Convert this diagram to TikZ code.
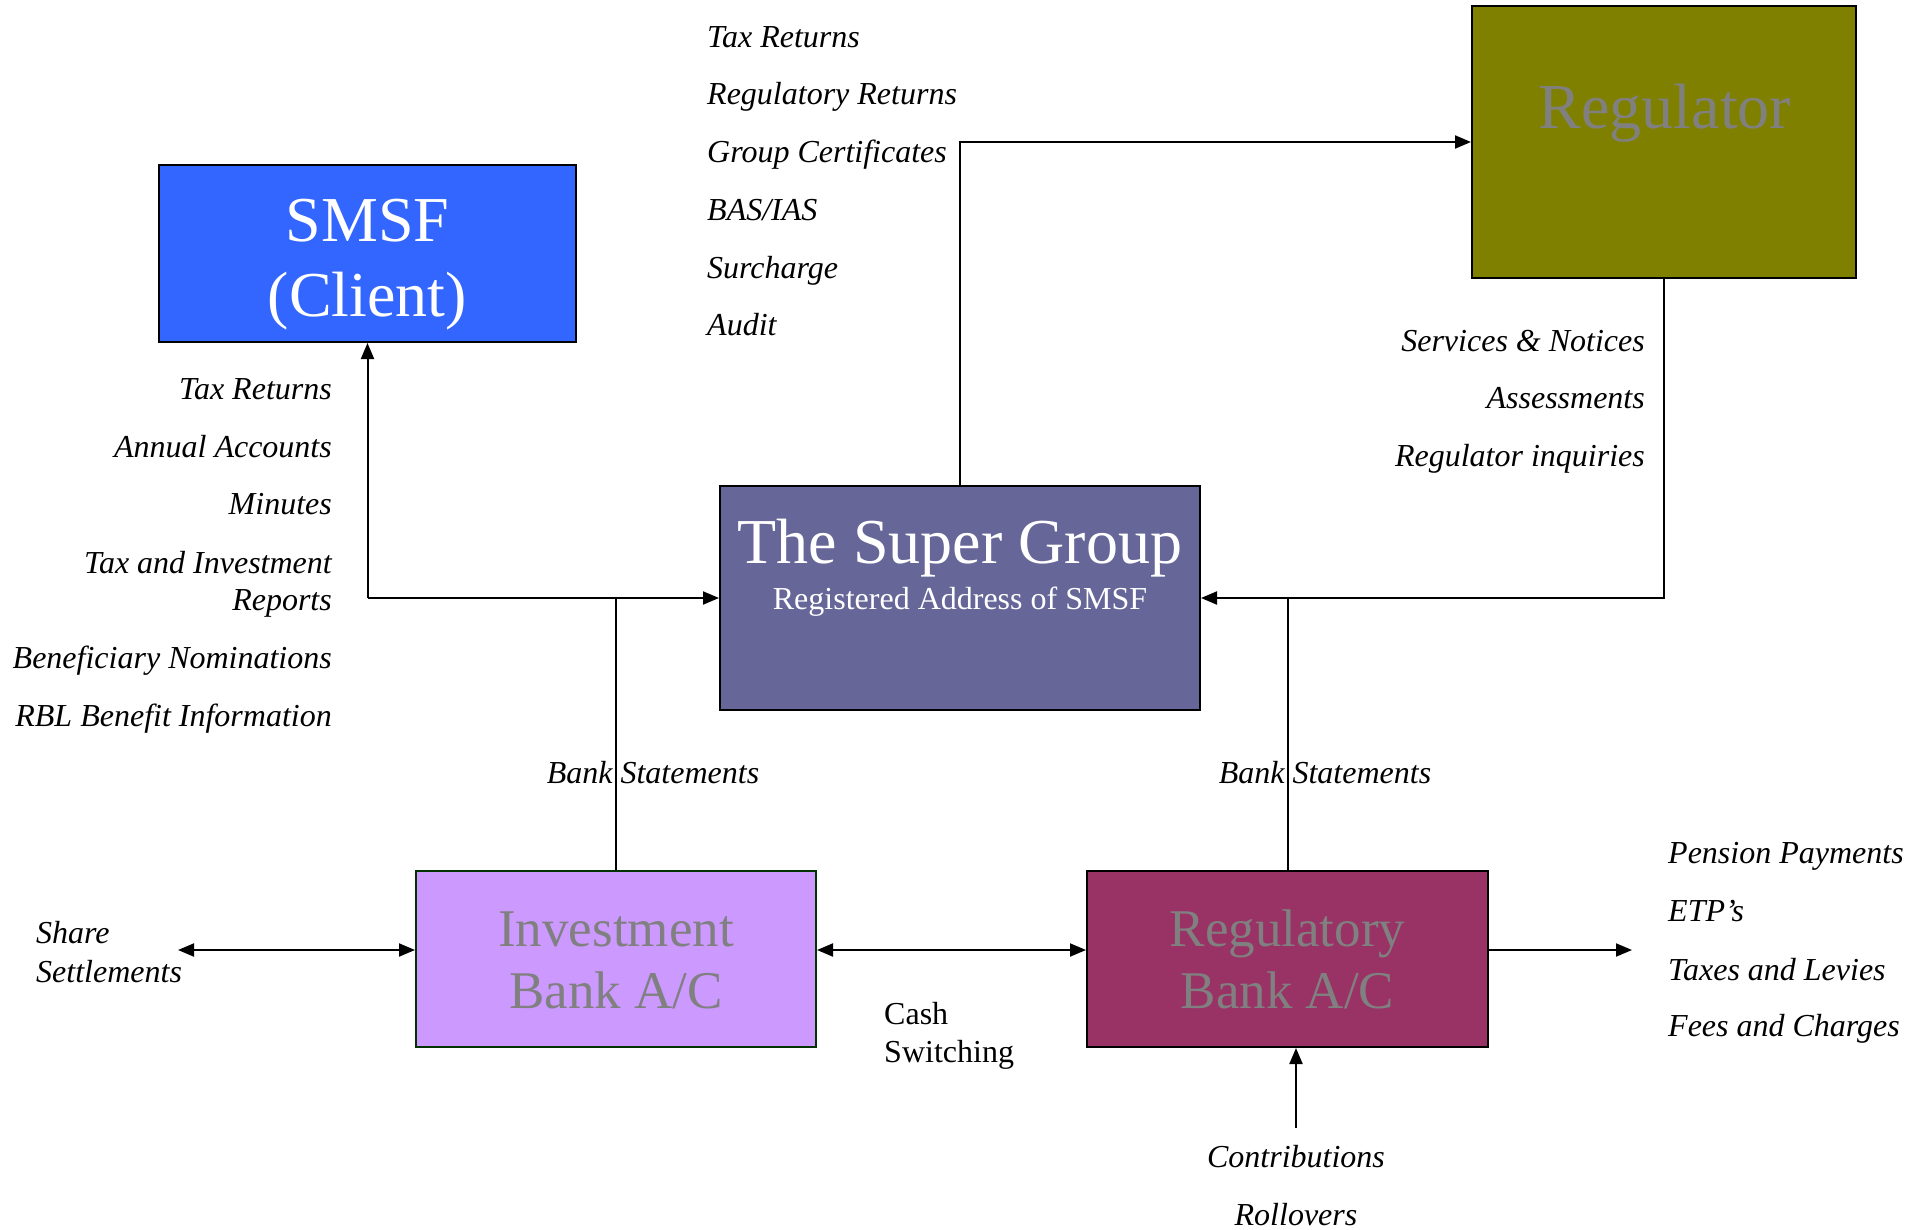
\documentclass[tikz,border=0pt]{standalone}
\usepackage{fontspec}
\setmainfont{Liberation Serif}
\usetikzlibrary{arrows.meta}
\definecolor{smsfc}{HTML}{3366FF}
\definecolor{regc}{HTML}{808000}
\definecolor{sgc}{HTML}{666699}
\definecolor{invc}{HTML}{CC99FF}
\definecolor{rbc}{HTML}{993366}
\definecolor{txtgray}{HTML}{808080}
\definecolor{invborder}{HTML}{003300}
\begin{document}
\begin{tikzpicture}[x=1pt,y=-1pt,
  boxst/.style={draw=black,line width=2pt,inner sep=0,rectangle},
  lbl/.style={font=\fontsize{32}{37}\selectfont\itshape,inner sep=0},
  plain/.style={font=\fontsize{32}{37}\selectfont,inner sep=0},
  bigw/.style={font=\fontsize{64}{74}\selectfont,text=white,inner sep=0},
  bigg/.style={font=\fontsize{53}{62}\selectfont,text=txtgray,inner sep=0},
  conn/.style={line width=2pt},
  arr/.style={conn,-{Triangle[length=16pt,width=13pt]}},
  darr/.style={conn,{Triangle[length=16pt,width=13pt]}-{Triangle[length=16pt,width=13pt]}}]
\useasboundingbox (0,0) rectangle (1922,1229);
% boxes
\node[boxst,fill=smsfc,minimum width=417pt,minimum height=177pt] (smsf) at (367.5,253.5) {};
\node[boxst,fill=regc,minimum width=384pt,minimum height=272pt] (reg) at (1664,142) {};
\node[boxst,fill=sgc,minimum width=480pt,minimum height=224pt] (sg) at (960,598) {};
\node[boxst,draw=invborder,fill=invc,minimum width=400pt,minimum height=176pt] (inv) at (616,959) {};
\node[boxst,fill=rbc,minimum width=401pt,minimum height=176pt] (rbank) at (1287.5,959) {};
% box texts
\node[bigw,anchor=mid] (smsf1) at (367.5,239) {SMSF};
\node[bigw,anchor=mid] (smsf2) at (367.5,314) {(Client)};
\node[bigg,font=\fontsize{64}{74}\selectfont,anchor=mid] (regt) at (1665,126) {Regulator};
\node[bigw,anchor=mid] (sg1) at (960,561) {The Super Group};
\node[inner sep=0,text=white,font=\fontsize{32}{38}\selectfont,anchor=mid] (sg2) at (960,607) {Registered Address of SMSF};
\node[bigg,anchor=mid] (inv1) at (616,944) {Investment};
\node[bigg,anchor=mid] (inv2) at (616,1006) {Bank A/C};
\node[bigg,anchor=mid] (rb1) at (1287.5,944) {Regulatory};
\node[bigg,anchor=mid] (rb2) at (1287.5,1006) {Bank A/C};
% connectors
\coordinate (jl) at (smsf.south |- sg.west);
\draw[arr] (jl) -- (smsf.south);
\draw[arr] (jl) -- (sg.west);
\draw[conn] (inv.north) -- (inv.north |- sg.west);
\draw[arr] (reg.south) |- (sg.east);
\draw[conn] (rbank.north) -- (rbank.north |- sg.east);
\draw[arr] (sg.north) |- (reg.west);
\coordinate (share) at (178,950);
\draw[darr] (share) -- ([yshift=9pt]inv.west);
\draw[darr] ([yshift=9pt]inv.east) -- ([yshift=9pt]rbank.west);
\coordinate (out) at (1632,950);
\draw[arr] ([yshift=9pt]rbank.east) -- (out);
\coordinate (contrib) at (1296,1128);
\draw[arr] (contrib) -- (contrib |- rbank.south);
% top list
\node[lbl,anchor=mid west] (t1) at (707,45) {Tax Returns};
\node[lbl,anchor=mid west] (t2) at (707,102) {Regulatory Returns};
\node[lbl,anchor=mid west] (t3) at (707,160) {Group Certificates};
\node[lbl,anchor=mid west] (t4) at (707,218) {BAS/IAS};
\node[lbl,anchor=mid west] (t5) at (707,276) {Surcharge};
\node[lbl,anchor=mid west] (t6) at (707,333) {Audit};
% left list
\node[lbl,anchor=mid east] (l1) at (332,397) {Tax Returns};
\node[lbl,anchor=mid east] (l2) at (332,455) {Annual Accounts};
\node[lbl,anchor=mid east] (l3) at (332,512) {Minutes};
\node[lbl,anchor=mid east] (l4) at (332,571) {Tax and Investment};
\node[lbl,anchor=mid east] (l5) at (332,608) {Reports};
\node[lbl,anchor=mid east] (l6) at (332,666) {Beneficiary Nominations};
\node[lbl,anchor=mid east] (l7) at (332,724) {RBL Benefit Information};
% regulator list
\node[lbl,anchor=mid east] (r1) at (1645,349) {Services \& Notices};
\node[lbl,anchor=mid east] (r2) at (1645,406) {Assessments};
\node[lbl,anchor=mid east] (r3) at (1645,464) {Regulator inquiries};
% bank statements
\node[lbl,anchor=mid] (bs1) at (653,781) {Bank Statements};
\node[lbl,anchor=mid] (bs2) at (1325,781) {Bank Statements};
% share settlements
\node[lbl,anchor=mid west] (ss1) at (36,941) {Share};
\node[lbl,anchor=mid west] (ss2) at (36,980) {Settlements};
% cash switching
\node[plain,anchor=mid west] (cs1) at (884,1022) {Cash};
\node[plain,anchor=mid west] (cs2) at (884,1060) {Switching};
% outgoing list
\node[lbl,anchor=mid west] (o1) at (1668,861) {Pension Payments};
\node[lbl,anchor=mid west] (o2) at (1668,919) {ETP’s};
\node[lbl,anchor=mid west] (o3) at (1668,978) {Taxes and Levies};
\node[lbl,anchor=mid west] (o4) at (1668,1034) {Fees and Charges};
% contributions
\node[lbl,anchor=mid] (c1) at (1296,1165) {Contributions};
\node[lbl,anchor=mid] (c2) at (1296,1223) {Rollovers};
\end{tikzpicture}
\end{document}
